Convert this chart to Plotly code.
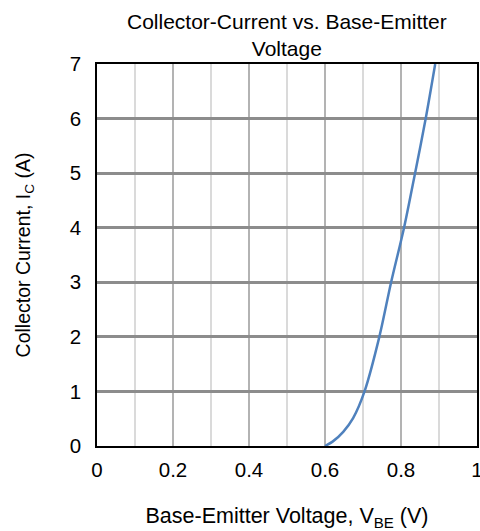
import plotly.graph_objects as go

vbe = [0.60, 0.62, 0.648, 0.674, 0.704, 0.743, 0.774, 0.808, 0.837, 0.865, 0.890]
ic = [0.0, 0.08, 0.26, 0.51, 1.0, 2.0, 3.0, 4.0, 5.0, 6.0, 7.0]

x_ticks = [0, 0.2, 0.4, 0.6, 0.8, 1]
x_labels = ["0", "0.2", "0.4", "0.6", "0.8", "1"]
y_ticks = [0, 1, 2, 3, 4, 5, 6, 7]

FONT = "Liberation Sans, Arial, sans-serif"

fig = go.Figure()
fig.add_trace(go.Scatter(
    x=vbe, y=ic, mode="lines",
    line=dict(color="#4f81bd", width=2.5, shape="spline", smoothing=0.8),
    showlegend=False, hoverinfo="skip",
))

fig.update_layout(
    width=480, height=531,
    margin=dict(l=97, r=3, t=64, b=85),
    paper_bgcolor="white", plot_bgcolor="white",
    font=dict(family=FONT, color="black", size=20),
)
fig.add_annotation(
    text="Collector-Current vs. Base-Emitter<br>Voltage",
    x=0.5, xref="paper", xanchor="center",
    y=1, yref="paper", yanchor="bottom", yshift=2,
    showarrow=False, font=dict(size=21, family=FONT), align="center",
)

fig.update_xaxes(
    automargin=False,
    range=[0, 1], tickvals=x_ticks, ticktext=x_labels,
    tickfont=dict(size=20.5), ticks="outside", ticklen=5, tickcolor="rgba(0,0,0,0)",
    ticklabeloverflow="allow",
    showgrid=True, gridcolor="#b3b3b3", gridwidth=1.5,
    minor=dict(dtick=0.1, showgrid=True, gridcolor="#dadada", gridwidth=1.5),
    showline=True, linecolor="black", linewidth=1.5, mirror=True,
    zeroline=False,
    title=dict(text="Base-Emitter Voltage, V<sub>BE</sub> (V)", font=dict(size=21.5), standoff=36),
)
fig.update_yaxes(
    automargin=False,
    range=[0, 7], tickvals=y_ticks,
    tickfont=dict(size=20.5), ticks="outside", ticklen=10, tickcolor="rgba(0,0,0,0)",
    showgrid=True, gridcolor="#8c8c8c", gridwidth=2.5,
    showline=True, linecolor="black", linewidth=1.5, mirror=True,
    zeroline=False,
    title=dict(text="Collector Current, I<sub>C</sub> (A)", font=dict(size=19.5), standoff=34),
)

fig.write_html("out.html", config={"displayModeBar": False},
               post_script="document.body.style.margin='0';document.body.style.overflow='hidden';")
